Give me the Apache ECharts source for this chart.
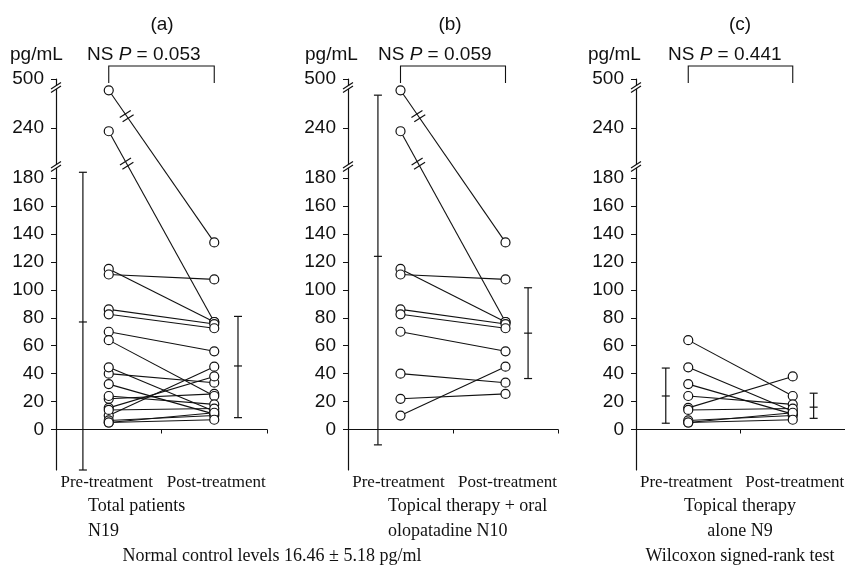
<!DOCTYPE html>
<html>
<head>
<meta charset="utf-8">
<script src="https://cdn.jsdelivr.net/npm/echarts@6/dist/echarts.min.js"></script>
<style>
html, body { margin: 0; padding: 0; background: #fff; }
#main { width: 845px; height: 569px; }
</style>
</head>
<body>
<div id="main"></div>
<script>
// group (b): topical therapy + oral olopatadine, pg/mL
const preB = [440, 236, 115, 111, 86, 82.5, 70, 40, 22, 10];
const postB = [134, 77, 77, 107.5, 75.5, 72.5, 56, 33.5, 25.5, 45];
// group (c): topical therapy alone
const preC = [64, 44.5, 32.5, 24, 15.5, 14, 6.5, 5, 5];
const postC = [24, 13, 11, 18, 38, 15, 10, 12, 7];
// (a) total patients = (b) + (c)
const preA = preB.concat(preC);
const postA = postB.concat(postC);

// mean +/- SD bars, [low, mean, high] for pre and post
const errA = [[-29, 77, 187], [8.5, 45.5, 81]];
const errB = [[-11, 124, 414], [36.5, 69, 101.5]];
const errC = [[4.5, 24, 44], [8, 16, 26]];

const pValues = ['0.053', '0.059', '0.441'];
const panelTags = ['(a)', '(b)', '(c)'];
const yTicks = [0, 20, 40, 60, 80, 100, 120, 140, 160, 180, 240, 500];
const axisBreaks = [194, 455];

// broken y scale: 180-240 and 240-500 are squeezed
const realStops = [180, 240, 500];
const dispStops = [180, 216, 251];
function toDisp(v) {
    if (v <= realStops[0]) return v;
    for (let i = 1; i < realStops.length; i++) {
        if (v <= realStops[i]) {
            return dispStops[i - 1] + (v - realStops[i - 1]) / (realStops[i] - realStops[i - 1]) * (dispStops[i] - dispStops[i - 1]);
        }
    }
    return dispStops[dispStops.length - 1];
}
const yTickDisp = yTicks.map(toDisp);

const panels = [
    { pre: preA, post: postA, err: errA, errX: [0.51, 3.45], left: 56, width: 211 },
    { pre: preB, post: postB, err: errB, errX: [0.57, 3.43], left: 348, width: 210 },
    { pre: preC, post: postC, err: errC, errX: [0.57, 3.40], left: 636, width: 209 }
];

const INK = '#111';
const SANS = '"Liberation Sans", Arial, sans-serif';
const SERIF = '"Liberation Serif", "Times New Roman", serif';

function renderErr(params, api) {
    const x = api.value(0);
    const lo = api.coord([x, api.value(1)]);
    const mid = api.coord([x, api.value(2)]);
    const hi = api.coord([x, api.value(3)]);
    const w = 4;
    const st = { stroke: INK, lineWidth: 1.2 };
    return {
        type: 'group',
        children: [
            { type: 'line', shape: { x1: lo[0], y1: lo[1], x2: hi[0], y2: hi[1] }, style: st },
            { type: 'line', shape: { x1: lo[0] - w, y1: lo[1], x2: lo[0] + w, y2: lo[1] }, style: st },
            { type: 'line', shape: { x1: hi[0] - w, y1: hi[1], x2: hi[0] + w, y2: hi[1] }, style: st },
            { type: 'line', shape: { x1: mid[0] - w, y1: mid[1], x2: mid[0] + w, y2: mid[1] }, style: st }
        ]
    };
}

// "//" on the lines that cross the break
function renderLineBreak(params, api) {
    const p1 = api.coord([1, api.value(1)]);
    const p2 = api.coord([3, api.value(2)]);
    const t = 0.17;
    const dx = p2[0] - p1[0], dy = p2[1] - p1[1];
    const len = Math.hypot(dx, dy);
    const ux = dx / len, uy = dy / len;
    const cx = p1[0] + t * dx, cy = p1[1] + t * dy;
    const mx = 5.5, my = -3.5;
    const kids = [];
    [-2.5, 2.5].forEach(function (o) {
        const x0 = cx + o * ux, y0 = cy + o * uy;
        kids.push({ type: 'line', shape: { x1: x0 - mx, y1: y0 - my, x2: x0 + mx, y2: y0 + my }, style: { stroke: INK, lineWidth: 1.2 } });
    });
    return { type: 'group', children: kids };
}

// "//" on the y axis
function renderAxisBreak(params, api) {
    const c = api.coord([0, api.value(1)]);
    const st = { stroke: INK, lineWidth: 1.2 };
    return {
        type: 'group',
        children: [
            { type: 'rect', shape: { x: c[0] - 2, y: c[1] - 1.5, width: 4, height: 3 }, style: { fill: '#fff' } },
            { type: 'line', shape: { x1: c[0] - 5, y1: c[1] + 1.5, x2: c[0] + 5, y2: c[1] - 5 }, style: st },
            { type: 'line', shape: { x1: c[0] - 5, y1: c[1] + 5, x2: c[0] + 5, y2: c[1] - 1.5 }, style: st }
        ]
    };
}

function renderBracket(params, api) {
    const a = api.coord([api.value(0), toDisp(500)]);
    const b = api.coord([api.value(1), toDisp(500)]);
    const top = a[1] - 13;
    return {
        type: 'polyline',
        shape: { points: [[a[0], a[1] + 4], [a[0], top], [b[0], top], [b[0], b[1] + 4]] },
        style: { stroke: INK, lineWidth: 1.1, fill: null }
    };
}

const grids = [], xAxes = [], yAxes = [], series = [], graphics = [];

panels.forEach(function (p, i) {
    grids.push({ left: p.left, width: p.width, top: 79, height: 391 });
    xAxes.push({
        gridIndex: i, type: 'value', min: 0, max: 4, interval: 2,
        axisLine: { onZero: true, lineStyle: { color: INK, width: 1.2 } },
        axisTick: { show: true, length: 4, lineStyle: { color: INK } },
        axisLabel: { show: false },
        splitLine: { show: false }
    });
    yAxes.push({
        gridIndex: i, type: 'value', min: -29, max: 251,
        axisLine: { show: true, onZero: false, lineStyle: { color: INK, width: 1.2 } },
        axisTick: { show: true, length: 5, customValues: yTickDisp, lineStyle: { color: INK } },
        axisLabel: {
            customValues: yTickDisp, margin: 12, color: INK, fontSize: 19, fontFamily: SANS,
            formatter: function (v) {
                for (let k = 0; k < yTickDisp.length; k++) {
                    if (Math.abs(yTickDisp[k] - v) < 1e-6) return String(yTicks[k]);
                }
                return '';
            }
        },
        splitLine: { show: false }
    });

    series.push({
        type: 'lines', coordinateSystem: 'cartesian2d', xAxisIndex: i, yAxisIndex: i,
        silent: true, z: 3,
        lineStyle: { color: INK, width: 1.1, opacity: 1, curveness: 0 },
        data: p.pre.map(function (v, j) { return { coords: [[1, toDisp(v)], [3, toDisp(p.post[j])]] }; })
    });
    series.push({
        type: 'custom', xAxisIndex: i, yAxisIndex: i, z: 4, clip: false, silent: true,
        renderItem: renderLineBreak,
        data: p.pre.map(function (v, j) { return [1, toDisp(v), toDisp(p.post[j])]; })
            .filter(function (d, j) { return p.pre[j] > 180; })
    });
    [p.pre, p.post].forEach(function (vals, k) {
        series.push({
            type: 'scatter', xAxisIndex: i, yAxisIndex: i, z: 5, silent: true,
            symbol: 'circle', symbolSize: 9,
            itemStyle: { color: '#fff', borderColor: INK, borderWidth: 1.2, opacity: 1 },
            data: vals.map(function (v) { return [k === 0 ? 1 : 3, toDisp(v)]; })
        });
    });
    series.push({
        type: 'custom', xAxisIndex: i, yAxisIndex: i, z: 4, clip: false, silent: true,
        renderItem: renderErr,
        data: p.err.map(function (e, k) { return [p.errX[k], toDisp(e[0]), toDisp(e[1]), toDisp(e[2])]; })
    });
    series.push({
        type: 'custom', xAxisIndex: i, yAxisIndex: i, z: 6, clip: false, silent: true,
        renderItem: renderAxisBreak,
        data: axisBreaks.map(function (v) { return [0, toDisp(v)]; })
    });
    series.push({
        type: 'custom', xAxisIndex: i, yAxisIndex: i, z: 4, clip: false, silent: true,
        renderItem: renderBracket,
        data: [[1, 3]]
    });

    const preX = p.left + p.width / 4, postX = p.left + p.width * 3 / 4;
    graphics.push(
        { type: 'text', x: [162, 450, 740][i], y: 25, style: { text: panelTags[i], fill: INK, font: '19px ' + SANS, align: 'center', verticalAlign: 'middle' } },
        { type: 'text', x: [10, 305, 588][i], y: 55, style: { text: 'pg/mL', fill: INK, font: '19px ' + SANS, verticalAlign: 'middle' } },
        {
            type: 'text', x: [87, 378, 668][i], y: 55,
            style: {
                text: '{n|NS }{i|P}{n| = ' + pValues[i] + '}', verticalAlign: 'middle',
                rich: {
                    n: { fill: INK, fontSize: 19, fontFamily: SANS },
                    i: { fill: INK, fontSize: 19, fontFamily: SANS, fontStyle: 'italic' }
                }
            }
        },
        { type: 'text', x: preX - 2, y: 483, style: { text: 'Pre-treatment', fill: INK, font: '17px ' + SERIF, align: 'center', verticalAlign: 'middle' } },
        { type: 'text', x: postX + 2, y: 483, style: { text: 'Post-treatment', fill: INK, font: '17px ' + SERIF, align: 'center', verticalAlign: 'middle' } }
    );
});

const captions = [
    { x: 88, align: 'left', lines: ['Total patients', 'N19'] },
    { x: 388, align: 'left', lines: ['Topical therapy + oral', 'olopatadine N10'] },
    { x: 740, align: 'center', lines: ['Topical therapy', 'alone N9', 'Wilcoxon signed-rank test'] }
];
captions.forEach(function (c) {
    c.lines.forEach(function (s, k) {
        graphics.push({ type: 'text', x: c.x, y: 506 + k * 25, style: { text: s, fill: INK, font: '18px ' + SERIF, align: c.align, verticalAlign: 'middle' } });
    });
});
graphics.push({ type: 'text', x: 272, y: 556, style: { text: 'Normal control levels 16.46 \u00b1 5.18 pg/ml', fill: INK, font: '18px ' + SERIF, align: 'center', verticalAlign: 'middle' } });

const myChart = echarts.init(document.getElementById('main'));
myChart.setOption({
    animation: false,
    backgroundColor: '#fff',
    grid: grids,
    xAxis: xAxes,
    yAxis: yAxes,
    series: series,
    graphic: graphics
});
</script>
</body>
</html>
